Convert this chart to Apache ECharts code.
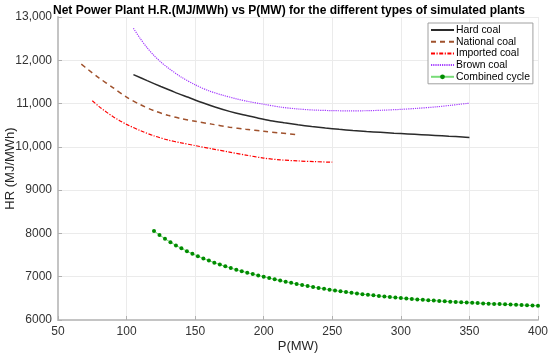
<!DOCTYPE html>
<html>
<head>
<meta charset="utf-8">
<script src="https://cdn.jsdelivr.net/npm/echarts@6/dist/echarts.min.js"></script>
<style>html,body{margin:0;padding:0;background:#fff}#c{width:550px;height:355px}</style>
</head>
<body>
<div id="c"></div>
<script>
var titleText = 'Net Power Plant H.R.(MJ/MWh) vs P(MW) for the different types of simulated plants';
var xName = 'P(MW)';
var yName = 'HR (MJ/MWh)';
var seriesNames = ['Hard coal', 'National coal', 'Imported coal', 'Brown coal', 'Combined cycle'];

var hardCoalP  = [105, 115, 125, 135, 145, 155, 165, 175, 185, 195, 205, 215, 225, 235, 245, 255, 265, 275, 285, 295, 305, 315, 325, 335, 345, 350];
var hardCoalHR = [11670, 11530, 11395, 11265, 11145, 11025, 10915, 10820, 10740, 10670, 10605, 10555, 10510, 10470, 10435, 10405, 10378, 10355, 10335, 10316, 10298, 10280, 10263, 10245, 10228, 10218];

var nationalP  = [67, 72, 80, 90, 100, 110, 120, 130, 140, 150, 162, 175, 187, 200, 212, 224];
var nationalHR = [11910, 11785, 11590, 11370, 11150, 10975, 10835, 10730, 10650, 10590, 10525, 10455, 10405, 10360, 10320, 10285];

var importedP  = [75, 80, 85, 90, 95, 100, 110, 120, 130, 140, 150, 162, 175, 187, 200, 212, 225, 237, 250];
var importedHR = [11066, 10930, 10810, 10700, 10605, 10520, 10375, 10255, 10160, 10090, 10030, 9955, 9880, 9810, 9740, 9700, 9675, 9658, 9645];

var brownP  = [105, 110, 115, 120, 125, 130, 140, 150, 160, 170, 180, 190, 200, 212, 225, 237, 250, 262, 275, 287, 300, 312, 325, 337, 350];
var brownHR = [12740, 12500, 12290, 12110, 11960, 11830, 11610, 11435, 11295, 11195, 11110, 11040, 10985, 10920, 10875, 10850, 10837, 10832, 10835, 10847, 10866, 10890, 10922, 10962, 11010];

var combinedP = [120, 124, 128, 132, 136, 140, 144, 148, 152, 156, 160, 164, 168, 172, 176, 180, 184, 188, 192, 196,
  200, 204, 208, 212, 216, 220, 224, 228, 232, 236, 240, 244, 248, 252, 256, 260, 264, 268, 272, 276,
  280, 284, 288, 292, 296, 300, 304, 308, 312, 316, 320, 324, 328, 332, 336, 340, 344, 348, 352, 356,
  360, 364, 368, 372, 376, 380, 384, 388, 392, 396, 400];
var combinedHR = [8057, 7963, 7877, 7797, 7723, 7655, 7590, 7530, 7474, 7421, 7372, 7325, 7281, 7239, 7199, 7162, 7126, 7092, 7060, 7029,
  7000, 6969, 6940, 6911, 6884, 6858, 6833, 6808, 6785, 6762, 6741, 6720, 6700, 6681, 6663, 6646, 6629, 6613, 6597, 6583,
  6569, 6555, 6542, 6530, 6518, 6506, 6495, 6485, 6475, 6466, 6457, 6448, 6439, 6432, 6424, 6417, 6410, 6402, 6396, 6390,
  6384, 6378, 6372, 6367, 6362, 6357, 6351, 6345, 6339, 6334, 6330];

var xTicks = [50, 100, 150, 200, 250, 300, 350, 400];
var yTicks = [6000, 7000, 8000, 9000, 10000, 11000, 12000, 13000];

function pairs(xs, ys) { return xs.map(function (x, i) { return [x, ys[i]]; }); }

var FONT = '"Liberation Sans", Arial, sans-serif';
var chart = echarts.init(document.getElementById('c'), null, { renderer: 'canvas' });

var legendData = seriesNames.map(function (n, i) {
  return i < 4 ? { name: n, itemStyle: { opacity: 0 } } : { name: n };
});

var option = {
  animation: false,
  backgroundColor: '#fff',
  textStyle: { fontFamily: FONT },
  title: {
    text: titleText, left: 48, top: 0,
    textStyle: { fontSize: 12, fontWeight: 'bold', color: '#000', fontFamily: FONT }
  },
  grid: { left: 58, right: 12, top: 17, bottom: 35, containLabel: false, outerBoundsMode: 'none' },
  legend: {
    orient: 'vertical', left: 428, top: 23,
    padding: [2, 3, 2, 2],
    itemWidth: 23, itemHeight: 6, itemGap: 1.7,
    backgroundColor: '#fff', borderColor: '#a0a0a0', borderWidth: 1,
    textStyle: { fontSize: 10.4, color: '#000', fontFamily: FONT, padding: [0, 0, 0, -3] },
    data: legendData
  },
  xAxis: {
    type: 'value', min: xTicks[0], max: xTicks[xTicks.length - 1], interval: 50,
    name: xName, nameLocation: 'middle', nameGap: 20, nameMoveOverlap: false,
    nameTextStyle: { fontSize: 13, color: '#262626', fontFamily: FONT },
    axisLine: { show: true, onZero: false, lineStyle: { color: '#c4c4c4', width: 2 } },
    axisTick: { show: true, inside: true, length: 4, lineStyle: { color: '#b0b0b0', width: 1 } },
    axisLabel: { fontSize: 12, color: '#333', margin: 6, fontFamily: FONT },
    splitLine: { show: true, lineStyle: { color: '#ebebeb', width: 1 } }
  },
  yAxis: {
    type: 'value', min: yTicks[0], max: yTicks[yTicks.length - 1], interval: 1000,
    name: yName, nameLocation: 'middle', nameGap: 41, nameRotate: 90, nameMoveOverlap: false,
    nameTextStyle: { fontSize: 13, color: '#262626', fontFamily: FONT },
    axisLine: { show: true, onZero: false, lineStyle: { color: '#c4c4c4', width: 2 } },
    axisTick: { show: true, inside: true, length: 4, lineStyle: { color: '#b0b0b0', width: 1 } },
    axisLabel: {
      fontSize: 12, color: '#333', margin: 6, fontFamily: FONT,
      formatter: function (v) { return v >= 10000 ? String(v).replace(/(\d+)(\d{3})$/, '$1,$2') : String(v); }
    },
    splitLine: { show: true, lineStyle: { color: '#ebebeb', width: 1 } }
  },
  series: [
    { name: seriesNames[0], type: 'line', data: pairs(hardCoalP, hardCoalHR), smooth: 0.3, symbol: 'none',
      lineStyle: { color: '#2b2b2b', width: 1.5, type: 'solid' }, itemStyle: { color: '#2b2b2b' } },
    { name: seriesNames[1], type: 'line', data: pairs(nationalP, nationalHR), smooth: 0.3, symbol: 'none',
      lineStyle: { color: '#a0522d', width: 1.5, type: [5, 4] }, itemStyle: { color: '#a0522d' } },
    { name: seriesNames[2], type: 'line', data: pairs(importedP, importedHR), smooth: 0.3, symbol: 'none',
      lineStyle: { color: '#ff0000', width: 1.2, type: [4, 1.5, 1.2, 1.5] }, itemStyle: { color: '#ff0000' } },
    { name: seriesNames[3], type: 'line', data: pairs(brownP, brownHR), smooth: 0.3, symbol: 'none',
      lineStyle: { color: '#a43cff', width: 1.2, type: [1.2, 1] }, itemStyle: { color: '#a43cff' } },
    { name: seriesNames[4], type: 'line', data: pairs(combinedP, combinedHR), smooth: false,
      symbol: 'circle', symbolSize: 4, showSymbol: true,
      lineStyle: { color: '#78dc78', width: 1 }, itemStyle: { color: '#008c00', borderWidth: 0 } }
  ]
};
chart.setOption(option);
</script>
</body>
</html>
